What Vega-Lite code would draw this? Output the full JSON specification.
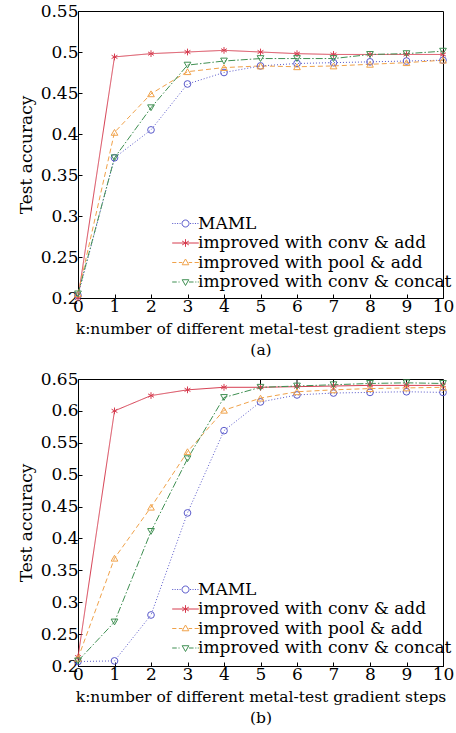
{
  "$schema": "https://vega.github.io/schema/vega-lite/v6.json",
  "padding": {"left": 16, "top": 1, "right": 2, "bottom": 2},
  "background": "white",
  "config": {
    "font": "DejaVu Serif",
    "view": {"stroke": "black", "strokeWidth": 1},
    "axis": {
      "grid": false,
      "domainColor": "black",
      "tickColor": "black",
      "labelColor": "black",
      "titleColor": "black",
      "labelFont": "DejaVu Serif",
      "titleFont": "DejaVu Serif",
      "labelFontSize": 17,
      "titleFontSize": 17,
      "titleFontWeight": "normal",
      "tickSize": -4,
      "tickWidth": 1,
      "domainWidth": 1,
      "labelPadding": 4,
      "labelFlush": false,
      "labelOverlap": false,
      "labelBound": false,
      "titleLimit": 1000
    },
    "axisX": {"titleFontSize": 15.5, "titleLineHeight": 21, "titlePadding": 7},
    "axisY": {"titlePadding": 5},
    "legend": {
      "labelFont": "DejaVu Serif",
      "labelFontSize": 17,
      "labelColor": "black",
      "labelOffset": 4,
      "symbolSize": 49,
      "symbolStrokeWidth": 1,
      "rowPadding": 1.5,
      "padding": 0,
      "labelLimit": 400
    }
  },
  "datasets": {
    "curves": [
      {"panel": "a", "series": "MAML", "k": 0, "acc": 0.203},
      {"panel": "a", "series": "MAML", "k": 1, "acc": 0.371},
      {"panel": "a", "series": "MAML", "k": 2, "acc": 0.405},
      {"panel": "a", "series": "MAML", "k": 3, "acc": 0.461},
      {"panel": "a", "series": "MAML", "k": 4, "acc": 0.475},
      {"panel": "a", "series": "MAML", "k": 5, "acc": 0.483},
      {"panel": "a", "series": "MAML", "k": 6, "acc": 0.486},
      {"panel": "a", "series": "MAML", "k": 7, "acc": 0.487},
      {"panel": "a", "series": "MAML", "k": 8, "acc": 0.488},
      {"panel": "a", "series": "MAML", "k": 9, "acc": 0.489},
      {"panel": "a", "series": "MAML", "k": 10, "acc": 0.490},
      {"panel": "a", "series": "improved with conv & add", "k": 0, "acc": 0.200},
      {"panel": "a", "series": "improved with conv & add", "k": 1, "acc": 0.494},
      {"panel": "a", "series": "improved with conv & add", "k": 2, "acc": 0.498},
      {"panel": "a", "series": "improved with conv & add", "k": 3, "acc": 0.500},
      {"panel": "a", "series": "improved with conv & add", "k": 4, "acc": 0.502},
      {"panel": "a", "series": "improved with conv & add", "k": 5, "acc": 0.500},
      {"panel": "a", "series": "improved with conv & add", "k": 6, "acc": 0.498},
      {"panel": "a", "series": "improved with conv & add", "k": 7, "acc": 0.497},
      {"panel": "a", "series": "improved with conv & add", "k": 8, "acc": 0.497},
      {"panel": "a", "series": "improved with conv & add", "k": 9, "acc": 0.497},
      {"panel": "a", "series": "improved with conv & add", "k": 10, "acc": 0.497},
      {"panel": "a", "series": "improved with pool & add", "k": 0, "acc": 0.205},
      {"panel": "a", "series": "improved with pool & add", "k": 1, "acc": 0.402},
      {"panel": "a", "series": "improved with pool & add", "k": 2, "acc": 0.449},
      {"panel": "a", "series": "improved with pool & add", "k": 3, "acc": 0.476},
      {"panel": "a", "series": "improved with pool & add", "k": 4, "acc": 0.481},
      {"panel": "a", "series": "improved with pool & add", "k": 5, "acc": 0.483},
      {"panel": "a", "series": "improved with pool & add", "k": 6, "acc": 0.482},
      {"panel": "a", "series": "improved with pool & add", "k": 7, "acc": 0.483},
      {"panel": "a", "series": "improved with pool & add", "k": 8, "acc": 0.485},
      {"panel": "a", "series": "improved with pool & add", "k": 9, "acc": 0.487},
      {"panel": "a", "series": "improved with pool & add", "k": 10, "acc": 0.490},
      {"panel": "a", "series": "improved with conv & concat", "k": 0, "acc": 0.205},
      {"panel": "a", "series": "improved with conv & concat", "k": 1, "acc": 0.371},
      {"panel": "a", "series": "improved with conv & concat", "k": 2, "acc": 0.432},
      {"panel": "a", "series": "improved with conv & concat", "k": 3, "acc": 0.484},
      {"panel": "a", "series": "improved with conv & concat", "k": 4, "acc": 0.489},
      {"panel": "a", "series": "improved with conv & concat", "k": 5, "acc": 0.492},
      {"panel": "a", "series": "improved with conv & concat", "k": 6, "acc": 0.492},
      {"panel": "a", "series": "improved with conv & concat", "k": 7, "acc": 0.492},
      {"panel": "a", "series": "improved with conv & concat", "k": 8, "acc": 0.497},
      {"panel": "a", "series": "improved with conv & concat", "k": 9, "acc": 0.498},
      {"panel": "a", "series": "improved with conv & concat", "k": 10, "acc": 0.501},
      {"panel": "b", "series": "MAML", "k": 0, "acc": 0.207},
      {"panel": "b", "series": "MAML", "k": 1, "acc": 0.208},
      {"panel": "b", "series": "MAML", "k": 2, "acc": 0.280},
      {"panel": "b", "series": "MAML", "k": 3, "acc": 0.440},
      {"panel": "b", "series": "MAML", "k": 4, "acc": 0.569},
      {"panel": "b", "series": "MAML", "k": 5, "acc": 0.614},
      {"panel": "b", "series": "MAML", "k": 6, "acc": 0.625},
      {"panel": "b", "series": "MAML", "k": 7, "acc": 0.628},
      {"panel": "b", "series": "MAML", "k": 8, "acc": 0.629},
      {"panel": "b", "series": "MAML", "k": 9, "acc": 0.630},
      {"panel": "b", "series": "MAML", "k": 10, "acc": 0.629},
      {"panel": "b", "series": "improved with conv & add", "k": 0, "acc": 0.214},
      {"panel": "b", "series": "improved with conv & add", "k": 1, "acc": 0.600},
      {"panel": "b", "series": "improved with conv & add", "k": 2, "acc": 0.624},
      {"panel": "b", "series": "improved with conv & add", "k": 3, "acc": 0.633},
      {"panel": "b", "series": "improved with conv & add", "k": 4, "acc": 0.637},
      {"panel": "b", "series": "improved with conv & add", "k": 5, "acc": 0.637},
      {"panel": "b", "series": "improved with conv & add", "k": 6, "acc": 0.638},
      {"panel": "b", "series": "improved with conv & add", "k": 7, "acc": 0.639},
      {"panel": "b", "series": "improved with conv & add", "k": 8, "acc": 0.640},
      {"panel": "b", "series": "improved with conv & add", "k": 9, "acc": 0.640},
      {"panel": "b", "series": "improved with conv & add", "k": 10, "acc": 0.640},
      {"panel": "b", "series": "improved with pool & add", "k": 0, "acc": 0.212},
      {"panel": "b", "series": "improved with pool & add", "k": 1, "acc": 0.369},
      {"panel": "b", "series": "improved with pool & add", "k": 2, "acc": 0.449},
      {"panel": "b", "series": "improved with pool & add", "k": 3, "acc": 0.536},
      {"panel": "b", "series": "improved with pool & add", "k": 4, "acc": 0.601},
      {"panel": "b", "series": "improved with pool & add", "k": 5, "acc": 0.620},
      {"panel": "b", "series": "improved with pool & add", "k": 6, "acc": 0.630},
      {"panel": "b", "series": "improved with pool & add", "k": 7, "acc": 0.633},
      {"panel": "b", "series": "improved with pool & add", "k": 8, "acc": 0.635},
      {"panel": "b", "series": "improved with pool & add", "k": 9, "acc": 0.636},
      {"panel": "b", "series": "improved with pool & add", "k": 10, "acc": 0.637},
      {"panel": "b", "series": "improved with conv & concat", "k": 0, "acc": 0.208},
      {"panel": "b", "series": "improved with conv & concat", "k": 1, "acc": 0.269},
      {"panel": "b", "series": "improved with conv & concat", "k": 2, "acc": 0.411},
      {"panel": "b", "series": "improved with conv & concat", "k": 3, "acc": 0.525},
      {"panel": "b", "series": "improved with conv & concat", "k": 4, "acc": 0.621},
      {"panel": "b", "series": "improved with conv & concat", "k": 5, "acc": 0.637},
      {"panel": "b", "series": "improved with conv & concat", "k": 6, "acc": 0.639},
      {"panel": "b", "series": "improved with conv & concat", "k": 7, "acc": 0.641},
      {"panel": "b", "series": "improved with conv & concat", "k": 8, "acc": 0.643},
      {"panel": "b", "series": "improved with conv & concat", "k": 9, "acc": 0.644},
      {"panel": "b", "series": "improved with conv & concat", "k": 10, "acc": 0.643}
    ],
    "errs": [
      {"panel": "b", "k": 5, "lo": 0.637, "hi": 0.65},
      {"panel": "b", "k": 6, "lo": 0.638, "hi": 0.65},
      {"panel": "b", "k": 7, "lo": 0.639, "hi": 0.65},
      {"panel": "b", "k": 8, "lo": 0.640, "hi": 0.65},
      {"panel": "b", "k": 9, "lo": 0.640, "hi": 0.65}
    ]
  },
  "spacing": 11,
  "vconcat": [
    {
      "width": 365,
      "height": 287,
      "data": {"name": "curves"},
      "encoding": {
        "x": {
          "field": "k",
          "type": "quantitative",
          "scale": {"domain": [0, 10], "nice": false},
          "axis": {
            "values": [0, 1, 2, 3, 4, 5, 6, 7, 8, 9, 10],
            "title": ["k:number of different metal-test gradient steps", "(a)"]
          }
        },
        "y": {
          "field": "acc",
          "type": "quantitative",
          "scale": {"domain": [0.2, 0.55], "nice": false, "zero": false},
          "axis": {
            "values": [0.2, 0.25, 0.3, 0.35, 0.4, 0.45, 0.5, 0.55],
            "format": "~g",
            "title": "Test accuracy"
          }
        }
      },
      "layer": [
        {
          "transform": [{"filter": "datum.panel == 'a'"}],
          "mark": {"type": "line", "strokeWidth": 1},
          "encoding": {
            "color": {
              "field": "series",
              "type": "nominal",
              "scale": {
                "domain": ["MAML", "improved with conv & add", "improved with pool & add", "improved with conv & concat"],
                "range": ["#5a5acb", "#d63c4f", "#f0a24a", "#3f8f52"]
              },
              "legend": null
            },
            "strokeDash": {
              "field": "series",
              "type": "nominal",
              "scale": {
                "domain": ["MAML", "improved with conv & add", "improved with pool & add", "improved with conv & concat"],
                "range": [[1, 2], [1, 0], [5, 3], [7, 2, 1.5, 2]]
              },
              "legend": null
            }
          }
        },
        {
          "transform": [{"filter": "datum.panel == 'a'"}],
          "mark": {"type": "point", "filled": false, "size": 45, "strokeWidth": 1, "opacity": 1},
          "encoding": {
            "color": {"field": "series", "type": "nominal", "legend": null},
            "shape": {
              "field": "series",
              "type": "nominal",
              "scale": {
                "domain": ["MAML", "improved with conv & add", "improved with pool & add", "improved with conv & concat"],
                "range": ["circle", "M0,-1V1M-0.87,-0.5L0.87,0.5M-0.87,0.5L0.87,-0.5", "triangle-up", "triangle-down"]
              },
              "legend": null
            }
          }
        },
        {
          "transform": [{"filter": "false"}],
          "mark": {"type": "point", "filled": false, "strokeWidth": 1, "opacity": 1},
          "encoding": {
            "color": {
              "field": "series",
              "type": "nominal",
              "legend": {"title": null, "orient": "none", "legendX": 99, "legendY": 204}
            },
            "shape": {
              "field": "series",
              "type": "nominal",
              "scale": {
                "domain": ["MAML", "improved with conv & add", "improved with pool & add", "improved with conv & concat"],
                "range": [
                  "M-3.8,0h0.3M-3.1,0h0.3M-2.4,0h0.3M-1.7,0h0.3M1.3,0h0.3M2,0h0.3M2.7,0h0.3M3.4,0h0.3M-1,0A1,1,0,1,1,1,0A1,1,0,1,1,-1,0",
                  "M-3.8,0H3.8M0,-1.1V1.1M-0.95,-0.55L0.95,0.55M-0.95,0.55L0.95,-0.55",
                  "M-3.8,0H-2.6M-1.9,0H-0.9M0.9,0H1.9M2.6,0H3.8M0,-1L0.95,0.65L-0.95,0.65Z",
                  "M-3.8,0H-2.5M-2,0H-1.7M1,0H2.3M2.8,0H3.1M3.5,0H3.8M0,1L0.95,-0.65L-0.95,-0.65Z"
                ]
              },
              "legend": {"title": null, "orient": "none", "legendX": 99, "legendY": 204}
            }
          }
        }
      ],
      "resolve": {"scale": {"shape": "independent"}, "legend": {"color": "independent", "shape": "independent"}}
    },
    {
      "width": 365,
      "height": 287,
      "data": {"name": "curves"},
      "encoding": {
        "x": {
          "field": "k",
          "type": "quantitative",
          "scale": {"domain": [0, 10], "nice": false},
          "axis": {
            "values": [0, 1, 2, 3, 4, 5, 6, 7, 8, 9, 10],
            "title": ["k:number of different metal-test gradient steps", "(b)"]
          }
        },
        "y": {
          "field": "acc",
          "type": "quantitative",
          "scale": {"domain": [0.2, 0.65], "nice": false, "zero": false},
          "axis": {
            "values": [0.2, 0.25, 0.3, 0.35, 0.4, 0.45, 0.5, 0.55, 0.6, 0.65],
            "format": "~g",
            "title": "Test accuracy"
          }
        }
      },
      "layer": [
        {
          "data": {"name": "errs"},
          "mark": {"type": "rule", "color": "black", "strokeWidth": 1},
          "encoding": {
            "y": {"field": "lo", "type": "quantitative"},
            "y2": {"field": "hi"}
          }
        },
        {
          "transform": [{"filter": "datum.panel == 'b'"}],
          "mark": {"type": "line", "strokeWidth": 1},
          "encoding": {
            "color": {
              "field": "series",
              "type": "nominal",
              "scale": {
                "domain": ["MAML", "improved with conv & add", "improved with pool & add", "improved with conv & concat"],
                "range": ["#5a5acb", "#d63c4f", "#f0a24a", "#3f8f52"]
              },
              "legend": null
            },
            "strokeDash": {
              "field": "series",
              "type": "nominal",
              "scale": {
                "domain": ["MAML", "improved with conv & add", "improved with pool & add", "improved with conv & concat"],
                "range": [[1, 2], [1, 0], [5, 3], [7, 2, 1.5, 2]]
              },
              "legend": null
            }
          }
        },
        {
          "transform": [{"filter": "datum.panel == 'b'"}],
          "mark": {"type": "point", "filled": false, "size": 45, "strokeWidth": 1, "opacity": 1},
          "encoding": {
            "color": {"field": "series", "type": "nominal", "legend": null},
            "shape": {
              "field": "series",
              "type": "nominal",
              "scale": {
                "domain": ["MAML", "improved with conv & add", "improved with pool & add", "improved with conv & concat"],
                "range": ["circle", "M0,-1V1M-0.87,-0.5L0.87,0.5M-0.87,0.5L0.87,-0.5", "triangle-up", "triangle-down"]
              },
              "legend": null
            }
          }
        },
        {
          "transform": [{"filter": "false"}],
          "mark": {"type": "point", "filled": false, "strokeWidth": 1, "opacity": 1},
          "encoding": {
            "color": {
              "field": "series",
              "type": "nominal",
              "legend": {"title": null, "orient": "none", "legendX": 99, "legendY": 202}
            },
            "shape": {
              "field": "series",
              "type": "nominal",
              "scale": {
                "domain": ["MAML", "improved with conv & add", "improved with pool & add", "improved with conv & concat"],
                "range": [
                  "M-3.8,0h0.3M-3.1,0h0.3M-2.4,0h0.3M-1.7,0h0.3M1.3,0h0.3M2,0h0.3M2.7,0h0.3M3.4,0h0.3M-1,0A1,1,0,1,1,1,0A1,1,0,1,1,-1,0",
                  "M-3.8,0H3.8M0,-1.1V1.1M-0.95,-0.55L0.95,0.55M-0.95,0.55L0.95,-0.55",
                  "M-3.8,0H-2.6M-1.9,0H-0.9M0.9,0H1.9M2.6,0H3.8M0,-1L0.95,0.65L-0.95,0.65Z",
                  "M-3.8,0H-2.5M-2,0H-1.7M1,0H2.3M2.8,0H3.1M3.5,0H3.8M0,1L0.95,-0.65L-0.95,-0.65Z"
                ]
              },
              "legend": {"title": null, "orient": "none", "legendX": 99, "legendY": 202}
            }
          }
        }
      ],
      "resolve": {"scale": {"shape": "independent"}, "legend": {"color": "independent", "shape": "independent"}}
    }
  ],
  "resolve": {
    "scale": {"x": "independent", "y": "independent", "color": "independent", "shape": "independent", "strokeDash": "independent"},
    "legend": {"color": "independent", "shape": "independent", "strokeDash": "independent"}
  }
}
